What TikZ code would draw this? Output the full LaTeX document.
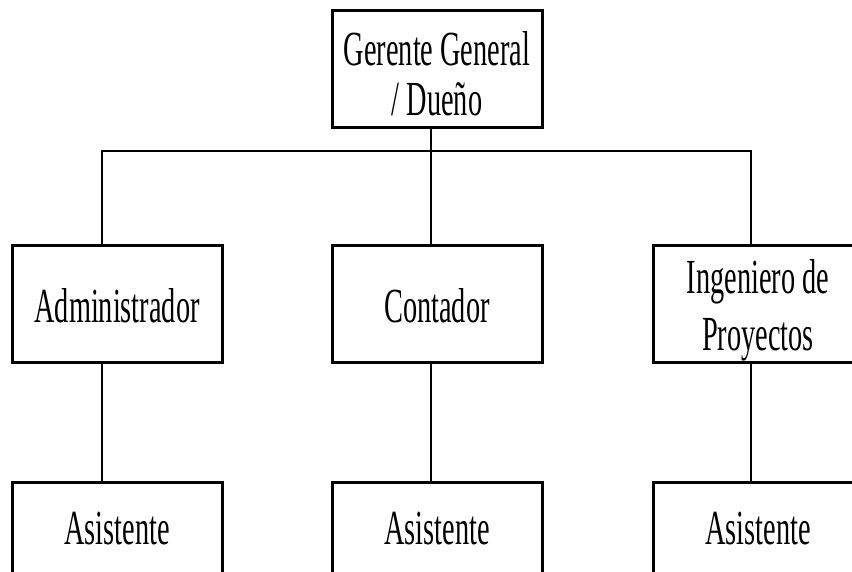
\documentclass[tikz,border=0pt]{standalone}
\usepackage{fontspec}
\setmainfont[FakeStretch=0.578]{Liberation Serif}
\newcommand{\upstrut}[1]{\rule{0pt}{#1}}
\begin{document}
\begin{tikzpicture}[x=1pt,y=-1pt,
  box/.style={draw,line width=3pt,minimum width=210pt,minimum height=117pt,
    inner sep=0pt,align=center,font=\fontsize{49}{50}\selectfont},
  link/.style={line width=2pt}]
\clip (0,0) rectangle (852,572);
\fill[white] (0,0) rectangle (852,572);
% boxes
\node[box] (g)   at (437,69)  {\upstrut{42.7pt}Gerente General\\/ Dueño};
\node[box] (adm) at (117,304) {\upstrut{37.5pt}Administrador};
\node[box] (con) at (437,304) {\upstrut{37.5pt}Contador};
\node[box] (ing) at (758,304) {\upstrut{46.1pt}Ingeniero de\\[7.4pt]Proyectos};
\node[box,minimum height=94pt] (as1) at (117,529) {Asistente};
\node[box,minimum height=94pt] (as2) at (437,529) {Asistente};
\node[box,minimum height=94pt] (as3) at (758,529) {Asistente};
% connector guides
\coordinate (bus) at (0,150.7);
\coordinate (x1) at (102,0);
\coordinate (x2) at (431,0);
\coordinate (x3) at (751,0);
% connectors
\draw[link] (g.south -| x2) -- (con.north -| x2);
\draw[link] (adm.north -| x1) |- (bus -| x3) -- (ing.north -| x3);
\draw[link] (adm.south -| x1) -- (as1.north -| x1);
\draw[link] (con.south -| x2) -- (as2.north -| x2);
\draw[link] (ing.south -| x3) -- (as3.north -| x3);
\end{tikzpicture}
\end{document}
